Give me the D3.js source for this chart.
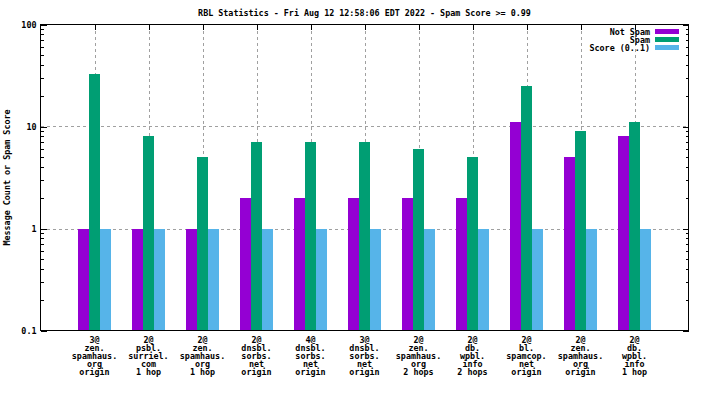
<!DOCTYPE html>
<html>
<head>
<meta charset="utf-8">
<script src="https://cdn.jsdelivr.net/npm/d3@7"></script>
<style>
  body { margin: 0; background: #fff; }
  svg { display: block; font-family: "DejaVu Sans Mono", monospace; font-size: 8.4px; font-weight: bold; }
</style>
</head>
<body>
<svg width="704" height="396"></svg>
<script>
// categories (one array of lines per cluster)
const categories = [
  ["3@", "zen.", "spamhaus.", "org", "origin"],
  ["2@", "psbl.", "surriel.", "com", "1 hop"],
  ["2@", "zen.", "spamhaus.", "org", "1 hop"],
  ["2@", "dnsbl.", "sorbs.", "net", "origin"],
  ["4@", "dnsbl.", "sorbs.", "net", "origin"],
  ["3@", "dnsbl.", "sorbs.", "net", "origin"],
  ["2@", "zen.", "spamhaus.", "org", "2 hops"],
  ["2@", "db.", "wpbl.", "info", "2 hops"],
  ["2@", "bl.", "spamcop.", "net", "origin"],
  ["2@", "zen.", "spamhaus.", "org", "origin"],
  ["2@", "db.", "wpbl.", "info", "1 hop"]
];
const notSpam = [1, 1, 1, 2, 2, 2, 2, 2, 11, 5, 8];
const spam = [33, 8, 5, 7, 7, 7, 6, 5, 25, 9, 11];
const score = [1, 1, 1, 1, 1, 1, 1, 1, 1, 1, 1];
const seriesNames = ["Not Spam", "Spam", "Score (0..1)"];
const yTicks = [0.1, 1, 10, 100];
const yTickLabels = ["0.1", "1", "10", "100"];

const title = "RBL Statistics - Fri Aug 12 12:58:06 EDT 2022 - Spam Score >= 0.99";
const yTitle = "Message Count or Spam Score";

const colors = ["#9400d3", "#009e73", "#56b4e9"];
const series = [notSpam, spam, score];

const pl = 40.5, pr = 688.5, pt = 24.5, pb = 330.5; // plot frame
const svg = d3.select("svg");

// x: gnuplot style cluster positions, range -1..n
const x = d3.scaleLinear().domain([-1, categories.length]).range([pl, pr]);
const y = d3.scaleLog().domain([0.1, 100]).range([pb, pt]);
const barW = 0.2; // in cluster units

// minor ticks 2..9 per decade
const minor = [];
yTicks.slice(0, -1).forEach(t => { for (let k = 2; k < 10; k++) minor.push(t * k); });

// grid
const grid = svg.append("g").attr("stroke", "#a0a0a0").attr("stroke-dasharray", "3,3").attr("shape-rendering", "crispEdges");
grid.selectAll(".gy").data(yTicks.slice(1, -1)).enter().append("line")
  .attr("x1", pl).attr("x2", pr)
  .attr("y1", d => Math.round(y(d)) + 0.5).attr("y2", d => Math.round(y(d)) + 0.5);
grid.selectAll(".gx").data(categories).enter().append("line")
  .attr("x1", (d, i) => Math.round(x(i)) + 0.5).attr("x2", (d, i) => Math.round(x(i)) + 0.5)
  .attr("y1", pt).attr("y2", pb);

// bars
series.forEach((vals, s) => {
  svg.append("g").selectAll("rect").data(vals).enter().append("rect")
    .attr("x", (d, i) => x(i + (s - 1.5) * barW))
    .attr("width", x(barW) - x(0))
    .attr("y", d => y(d))
    .attr("height", d => pb - y(d))
    .attr("fill", colors[s])
    .attr("shape-rendering", "crispEdges");
});

// axes (ticks point inward, like gnuplot)
function styleAxis(g) {
  g.select(".domain").remove();
  g.selectAll("line").attr("stroke", "#000").attr("shape-rendering", "crispEdges");
  g.selectAll("text").attr("fill", "#000").style("font-family", "DejaVu Sans Mono")
    .style("font-size", "8.4px").style("font-weight", "bold");
}
svg.append("g").attr("transform", `translate(${pl},0)`)
  .call(d3.axisLeft(y).tickValues(yTicks).tickSize(-6).tickPadding(4).tickFormat((d, i) => yTickLabels[i]))
  .call(styleAxis);
svg.append("g").attr("transform", `translate(${pl},0)`)
  .call(d3.axisLeft(y).tickValues(minor).tickSize(-3).tickFormat(""))
  .call(styleAxis);
svg.append("g").attr("transform", `translate(${pr},0)`)
  .call(d3.axisRight(y).tickValues(yTicks).tickSize(-6).tickFormat(""))
  .call(styleAxis);
svg.append("g").attr("transform", `translate(${pr},0)`)
  .call(d3.axisRight(y).tickValues(minor).tickSize(-3).tickFormat(""))
  .call(styleAxis);
svg.append("g").attr("transform", `translate(0,${pt})`)
  .call(d3.axisTop(x).tickValues(d3.range(categories.length)).tickSize(-5).tickFormat(""))
  .call(styleAxis);

// x labels
const xl = svg.append("g").attr("text-anchor", "middle");
categories.forEach((lines, i) => {
  const t = xl.append("text").attr("x", x(i)).attr("y", 342.5);
  lines.forEach((ln, j) => t.append("tspan").attr("x", x(i)).attr("y", 342.5 + j * 8).text(ln));
});

// frame
svg.append("rect").attr("x", pl).attr("y", pt)
  .attr("width", pr - pl).attr("height", pb - pt)
  .attr("fill", "none").attr("stroke", "#000").attr("shape-rendering", "crispEdges");

// title
svg.append("text").attr("x", (pl + pr) / 2).attr("y", 15.5)
  .attr("text-anchor", "middle").text(title);

// y title
svg.append("text").attr("transform", `translate(10,${(pt + pb) / 2}) rotate(-90)`)
  .attr("text-anchor", "middle").text(yTitle);

// legend
const lg = svg.append("g");
seriesNames.forEach((name, i) => {
  const cy = 31.5 + i * 8;
  lg.append("text").attr("x", 650).attr("y", cy + 3).attr("text-anchor", "end").text(name);
  lg.append("rect").attr("x", 655).attr("y", cy - 2.5).attr("width", 24).attr("height", 5)
    .attr("fill", colors[i]);
});
</script>
</body>
</html>
